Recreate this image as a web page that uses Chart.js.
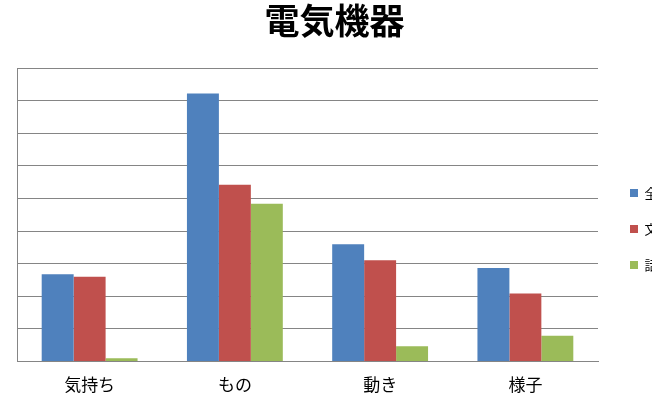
<!DOCTYPE html>
<html>
<head>
<meta charset="utf-8">
<script src="https://cdn.jsdelivr.net/npm/chart.js@4"></script>
<style>
  html, body { margin: 0; padding: 0; background: #fff; overflow: hidden; }
  #wrap { width: 652px; height: 393px; overflow: hidden; }
</style>
</head>
<body>
<div id="wrap"><canvas id="chart" width="652" height="408"></canvas></div>
<script>
// データ
const categories = ["気持ち", "もの", "動き", "様子"];
const seriesNames = ["全体", "文章", "話し言葉"];
const zentai = [26.8, 82.2, 36.0, 28.7];
const bunsho = [26.0, 54.2, 31.1, 20.9];
const hanashi = [1.0, 48.4, 4.7, 7.9];
const colors = ["#4F81BD", "#C0504D", "#9BBB59"];

const gridColor = "#858585";
const jpFont = "'Noto Sans CJK JP', sans-serif";

// 凡例の位置を少し調整
const legendShift = {
  id: 'legendShift',
  afterLayout(chart) {
    const lg = chart.legend;
    lg.left += 9;
    lg.right += 9;
    lg.top += 25;
    lg.bottom += 25;
  }
};

new Chart(document.getElementById('chart').getContext('2d'), {
  type: 'bar',
  data: {
    labels: categories,
    datasets: [zentai, bunsho, hanashi].map((d, i) => ({
      label: seriesNames[i],
      data: d,
      backgroundColor: colors[i],
      borderWidth: 0,
      categoryPercentage: 0.66,
      barPercentage: 1
    }))
  },
  options: {
    responsive: false,
    animation: false,
    layout: { padding: { left: 17, right: 0, top: 0, bottom: 0 } },
    plugins: {
      title: {
        display: true,
        text: "電気機器",
        color: "#000",
        font: { family: jpFont, size: 35, weight: 'bold' },
        padding: { top: 0, bottom: 26 }
      },
      legend: {
        position: 'right',
        maxWidth: 54,
        labels: {
          boxWidth: 8,
          boxHeight: 8,
          padding: 23,
          color: "#000",
          font: { family: jpFont, size: 13 }
        }
      },
      tooltip: { enabled: false }
    },
    scales: {
      x: {
        grid: { display: false, drawTicks: false },
        border: { display: true, color: gridColor, width: 1 },
        ticks: { color: "#000", padding: 13, font: { family: jpFont, size: 17 } }
      },
      y: {
        min: 0,
        max: 90,
        grid: { color: gridColor, lineWidth: 1, drawTicks: false },
        border: { display: true, color: gridColor, width: 1 },
        ticks: { display: false, stepSize: 10 }
      }
    }
  },
  plugins: [legendShift]
});
</script>
</body>
</html>
